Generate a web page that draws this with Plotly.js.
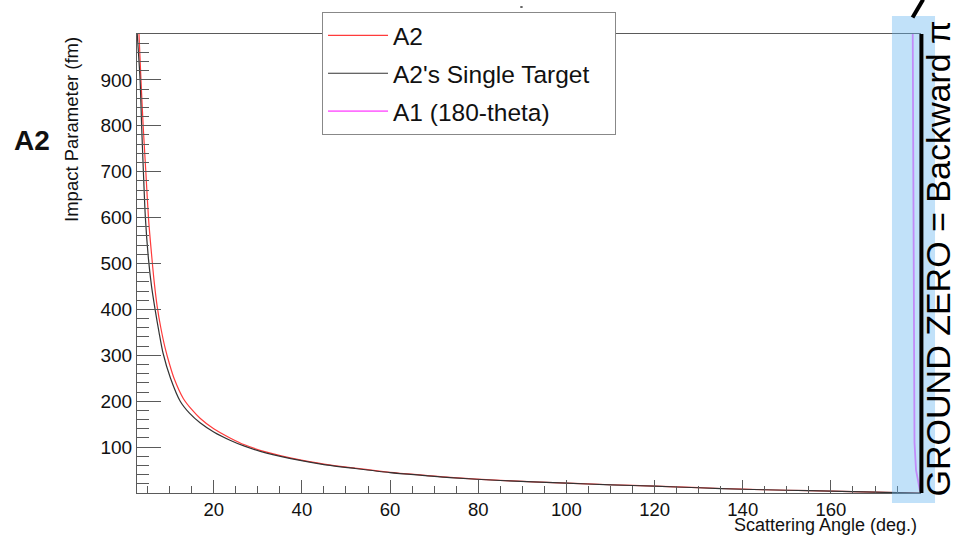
<!DOCTYPE html>
<html>
<head>
<meta charset="utf-8">
<script src="https://cdn.plot.ly/plotly-3.0.1.min.js"></script>
<style>html,body{margin:0;padding:0;background:#fff;}#chart{width:953px;height:535px;}</style>
</head>
<body>
<div id="chart"></div>
<script>
// ---- data ----
const angleA2 = [3.05, 3.5, 4.0, 4.6, 5.2, 5.9, 6.5, 7.2, 8.0, 9.0, 10.0, 11.0, 13.1, 15.0, 16.9, 20, 23.7, 27, 32, 39.6, 45, 52, 60, 68, 73.6, 85, 100, 110, 120, 130, 140, 150, 160, 170, 175, 180];
const impactA2 = [1000, 900, 800, 700, 600, 520, 460, 405, 360, 315, 280, 250, 206, 182, 163, 140, 120, 105, 89, 72, 63, 54, 45, 38.5, 34, 27.5, 21.5, 18, 15, 11.5, 8.3, 6, 4, 2, 1, 0];

const angleSingle = [2.65, 3.3, 3.65, 4.05, 4.5, 5.2, 5.9, 6.7, 7.6, 8.5, 10.2, 12.4, 14.5, 16.9, 20, 23.7, 27, 32, 39.6, 45, 52, 60, 68, 73.6, 85, 100, 110, 120, 130, 140, 150, 160, 170, 175, 180];
const impactSingle = [1000, 900, 800, 700, 600, 510, 450, 400, 350, 305, 250, 200, 174, 153, 133, 115, 102, 87, 71, 62, 53.5, 44.5, 38, 33.5, 27.2, 21.3, 17.8, 14.8, 11.4, 8.2, 6, 4, 2, 1, 0];

const angleA1 = [178.55, 178.7, 178.95, 179.3, 179.8, 180.2];
const impactA1 = [1000, 555, 110, 50, 21, 5];

const xTickVals = [20, 40, 60, 80, 100, 120, 140, 160];
const yTickVals = [100, 200, 300, 400, 500, 600, 700, 800, 900];

const seriesNames = ["A2", "A2's Single Target", "A1 (180-theta)"];

// ---- chart ----
const FONT = "Liberation Sans, Arial, Helvetica, sans-serif";
const AXC = "#5a5a5a";
const PAD = "\u00a0\u00a0\u00a0";

const traces = [
  {x: angleA2, y: impactA2, name: seriesNames[0], mode: "lines",
   line: {color: "#ff3b3b", width: 1.2, shape: "spline", smoothing: 0.7}, legendgroup: "g1"},
  {x: angleSingle, y: impactSingle, name: seriesNames[1] + PAD, mode: "lines",
   line: {color: "#333333", width: 1.2, shape: "spline", smoothing: 0.7}, legendgroup: "g2"},
  {x: angleA1, y: impactA1, name: seriesNames[2], mode: "lines",
   line: {color: "#ff70ff", width: 1.8}, legendgroup: "g3"}
];

const layout = {
  width: 953, height: 535,
  margin: {l: 137, r: 33, t: 34, b: 42, pad: 0},
  paper_bgcolor: "#ffffff", plot_bgcolor: "#ffffff",
  font: {family: FONT, color: "#111", size: 18},
  showlegend: true,
  legend: {
    x: 0.2363, y: 1.048, xanchor: "left", yanchor: "top",
    bgcolor: "#ffffff", bordercolor: "#888", borderwidth: 1,
    font: {family: FONT, size: 24.5, color: "#111"},
    itemwidth: 60, tracegroupgap: 3, traceorder: "grouped"
  },
  xaxis: {
    range: [2.6, 180.2],
    showgrid: false, zeroline: false,
    showline: true, linecolor: AXC, linewidth: 1, mirror: true,
    tickmode: "array", tickvals: xTickVals, ticktext: xTickVals.map(String),
    ticks: "inside", ticklen: 13, tickcolor: AXC, tickwidth: 1,
    minor: {tickmode: "linear", tick0: 0, dtick: 5, ticks: "inside", ticklen: 7, tickcolor: AXC, tickwidth: 1, showgrid: false},
    tickfont: {family: FONT, size: 18.5, color: "#111"}
  },
  yaxis: {
    range: [0, 1000],
    showgrid: false, zeroline: false,
    showline: true, linecolor: AXC, linewidth: 1, mirror: true,
    tickmode: "array", tickvals: yTickVals, ticktext: yTickVals.map(String),
    ticks: "inside", ticklen: 24, tickcolor: AXC, tickwidth: 1,
    minor: {tickmode: "linear", tick0: 0, dtick: 20, ticks: "inside", ticklen: 12, tickcolor: AXC, tickwidth: 1, showgrid: false},
    tickfont: {family: FONT, size: 19, color: "#111"}
  },
  shapes: [
    {type: "rect", xref: "paper", yref: "paper", x0: 0.9642, x1: 1.0192, y0: -0.0218, y1: 1.0392,
     fillcolor: "rgba(100,180,240,0.4)", line: {width: 0}, layer: "above"},
    {type: "line", xref: "paper", yref: "paper", x0: 1.0018, x1: 1.0018, y0: 0, y1: 1.0,
     line: {color: "#000", width: 4}, layer: "above"},
    {type: "line", xref: "paper", yref: "paper", x0: 0.9905, x1: 1.004, y0: 1.036, y1: 1.075,
     line: {color: "#000", width: 4}, layer: "above"},
    {type: "line", xref: "paper", yref: "paper", x0: 0.4895, x1: 0.4925, y0: 1.0588, y1: 1.0588,
     line: {color: "#333", width: 1.5}, layer: "above"}
  ],
  annotations: [
    {text: "<b>A2</b>", xref: "paper", yref: "paper", x: -0.1335, y: 0.767, xanchor: "center", yanchor: "middle",
     showarrow: false, font: {family: FONT, size: 28, color: "#111"}},
    {text: "GROUND ZERO = Backward π", xref: "paper", yref: "paper", x: 1.0235, y: 0.512, xanchor: "center", yanchor: "middle",
     textangle: -90, showarrow: false, font: {family: FONT, size: 34, color: "#000"}},
    {text: "Impact Parameter (fm)", xref: "paper", yref: "paper", x: -0.083, y: 0.791, xanchor: "center", yanchor: "middle",
     textangle: -90, showarrow: false, font: {family: FONT, size: 18.5, color: "#111"}},
    {text: "Scattering Angle (deg.)", xref: "paper", yref: "paper", x: 0.9987, y: -0.069, xanchor: "right", yanchor: "middle",
     showarrow: false, font: {family: FONT, size: 18, color: "#111"}}
  ]
};

Plotly.newPlot("chart", traces, layout, {displayModeBar: false, staticPlot: true});
</script>
</body>
</html>
